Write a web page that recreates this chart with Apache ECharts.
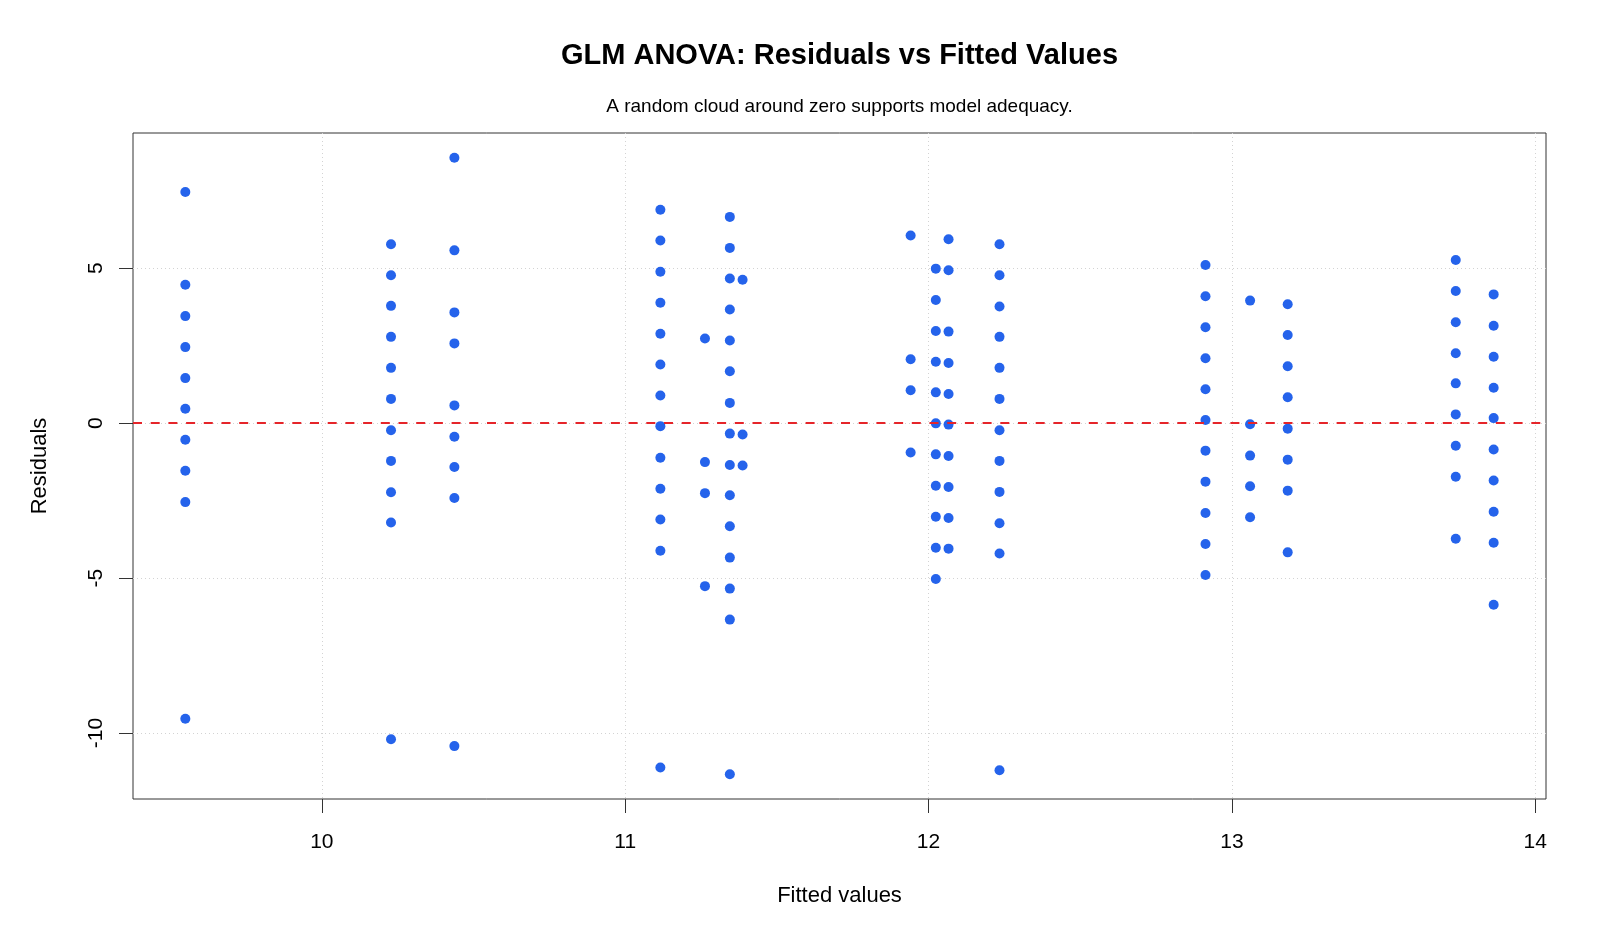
<!DOCTYPE html>
<html>
<head>
<meta charset="utf-8">
<script src="https://cdn.jsdelivr.net/npm/echarts@6/dist/echarts.min.js"></script>
<style>
  html, body { margin: 0; padding: 0; background: #fff; }
  #chart { width: 1600px; height: 933px; }
</style>
</head>
<body>
<div id="chart"></div>
<script>
// ---- data ----
const titleText = 'GLM ANOVA: Residuals vs Fitted Values';
const subtitleText = 'A random cloud around zero supports model adequacy.';
const xAxisName = 'Fitted values';
const yAxisName = 'Residuals';

const xTicks = [10, 11, 12, 13, 14];
const yTicks = [-10, -5, 0, 5];

const fittedValues = [9.550, 10.228, 10.437, 11.116, 11.263, 11.345, 11.387, 11.941,
                      12.024, 12.066, 12.234, 12.913, 13.060, 13.184, 13.738, 13.863];

const res01 = [7.45, 4.46, 3.45, 2.45, 1.45, 0.46, -0.54, -1.54, -2.55, -9.54];
const res02 = [5.77, 4.77, 3.78, 2.78, 1.78, 0.78, -0.23, -1.22, -2.23, -3.21, -10.20];
const res03 = [8.56, 5.57, 3.57, 2.57, 0.57, -0.44, -1.42, -2.42, -10.42];
const res04 = [6.88, 5.89, 4.88, 3.88, 2.88, 1.89, 0.89, -0.10, -1.12, -2.12, -3.11, -4.12, -11.11];
const res05 = [2.73, -1.26, -2.26, -5.26];
const res06 = [6.65, 5.65, 4.66, 3.66, 2.66, 1.67, 0.65, -0.34, -1.35, -2.33, -3.33, -4.34, -5.34, -6.34, -11.33];
const res07 = [4.62, -0.37, -1.37];
const res08 = [6.05, 2.06, 1.06, -0.95];
const res09 = [4.98, 3.97, 2.97, 1.98, 0.99, -0.01, -1.01, -2.02, -3.02, -4.02, -5.03];
const res10 = [5.93, 4.93, 2.95, 1.94, 0.94, -0.05, -1.06, -2.06, -3.06, -4.05];
const res11 = [5.77, 4.77, 3.76, 2.78, 1.78, 0.78, -0.23, -1.22, -2.22, -3.23, -4.21, -11.20];
const res12 = [5.10, 4.09, 3.09, 2.09, 1.09, 0.10, -0.89, -1.89, -2.90, -3.90, -4.90];
const res13 = [3.95, -0.04, -1.05, -2.04, -3.04];
const res14 = [3.83, 2.84, 1.83, 0.83, -0.18, -1.18, -2.18, -4.17];
const res15 = [5.26, 4.26, 3.25, 2.25, 1.28, 0.28, -0.73, -1.73, -3.73];
const res16 = [4.15, 3.14, 2.14, 1.14, 0.16, -0.85, -1.85, -2.86, -3.86, -5.86];

const residualGroups = [res01, res02, res03, res04, res05, res06, res07, res08,
                        res09, res10, res11, res12, res13, res14, res15, res16];

// ---- build points ----
const points = [];
residualGroups.forEach((grp, i) => {
  grp.forEach(r => points.push([fittedValues[i], r]));
});

// R-style 4% axis padding
const allX = points.map(p => p[0]);
const allY = points.map(p => p[1]);
function padRange(arr) {
  const lo = Math.min(...arr), hi = Math.max(...arr);
  const d = (hi - lo) * 0.04;
  return [lo - d, hi + d];
}
const xr = padRange(allX);
const yr = padRange(allY);

const FONT = '"Liberation Sans", Arial, Helvetica, sans-serif';
const PLOT_LEFT = 133, PLOT_RIGHT = 1546, PLOT_TOP = 133, PLOT_BOTTOM = 799;
const centerX = (PLOT_LEFT + PLOT_RIGHT) / 2;

const chart = echarts.init(document.getElementById('chart'), null, { renderer: 'canvas' });

const gridLine = { show: true, lineStyle: { color: '#d3d3d3', width: 1, type: [1, 3] } };

chart.setOption({
  animation: false,
  backgroundColor: '#ffffff',
  title: [
    {
      text: titleText,
      left: centerX, top: 38, textAlign: 'center', padding: 0,
      textStyle: { fontFamily: FONT, fontSize: 29, fontWeight: 'bold', color: '#000', lineHeight: 35 }
    },
    {
      text: subtitleText,
      left: centerX, top: 96, textAlign: 'center', padding: 0,
      textStyle: { fontFamily: FONT, fontSize: 19, fontWeight: 'normal', color: '#000', lineHeight: 22 }
    }
  ],
  grid: {
    left: PLOT_LEFT, right: 1600 - PLOT_RIGHT, top: PLOT_TOP, bottom: 933 - PLOT_BOTTOM,
    show: true, borderColor: '#333333', borderWidth: 1, backgroundColor: 'transparent',
    containLabel: false
  },
  xAxis: {
    type: 'value',
    min: xr[0], max: xr[1],
    name: xAxisName, nameLocation: 'middle', nameGap: 86,
    nameTextStyle: { fontFamily: FONT, fontSize: 22, color: '#000' },
    axisLine: { show: false, onZero: false },
    axisTick: { show: true, inside: false, length: 14, customValues: xTicks, lineStyle: { color: '#333', width: 1 } },
    axisLabel: { show: true, customValues: xTicks, margin: 33, fontFamily: FONT, fontSize: 21, color: '#000' },
    splitLine: gridLine
  },
  yAxis: {
    type: 'value',
    min: yr[0], max: yr[1],
    name: yAxisName, nameLocation: 'middle', nameGap: 82,
    nameTextStyle: { fontFamily: FONT, fontSize: 22, color: '#000' },
    axisLine: { show: false, onZero: false },
    axisTick: { show: true, inside: false, length: 14, customValues: yTicks, lineStyle: { color: '#333', width: 1 } },
    axisLabel: { show: true, customValues: yTicks, rotate: 90, margin: 26, fontFamily: FONT, fontSize: 21, color: '#000' },
    splitLine: gridLine
  },
  series: [
    {
      type: 'scatter',
      data: points,
      symbol: 'circle',
      symbolSize: 10,
      itemStyle: { color: '#2563EB', opacity: 1 },
      z: 2,
      silent: true
    },
    {
      type: 'line',
      data: [],
      z: 3,
      silent: true,
      markLine: {
        silent: true,
        symbol: ['none', 'none'],
        label: { show: false },
        lineStyle: { color: '#E5252A', width: 2, type: [9, 8.7], opacity: 1 },
        data: [{ yAxis: 0 }]
      }
    }
  ]
});
</script>
</body>
</html>
